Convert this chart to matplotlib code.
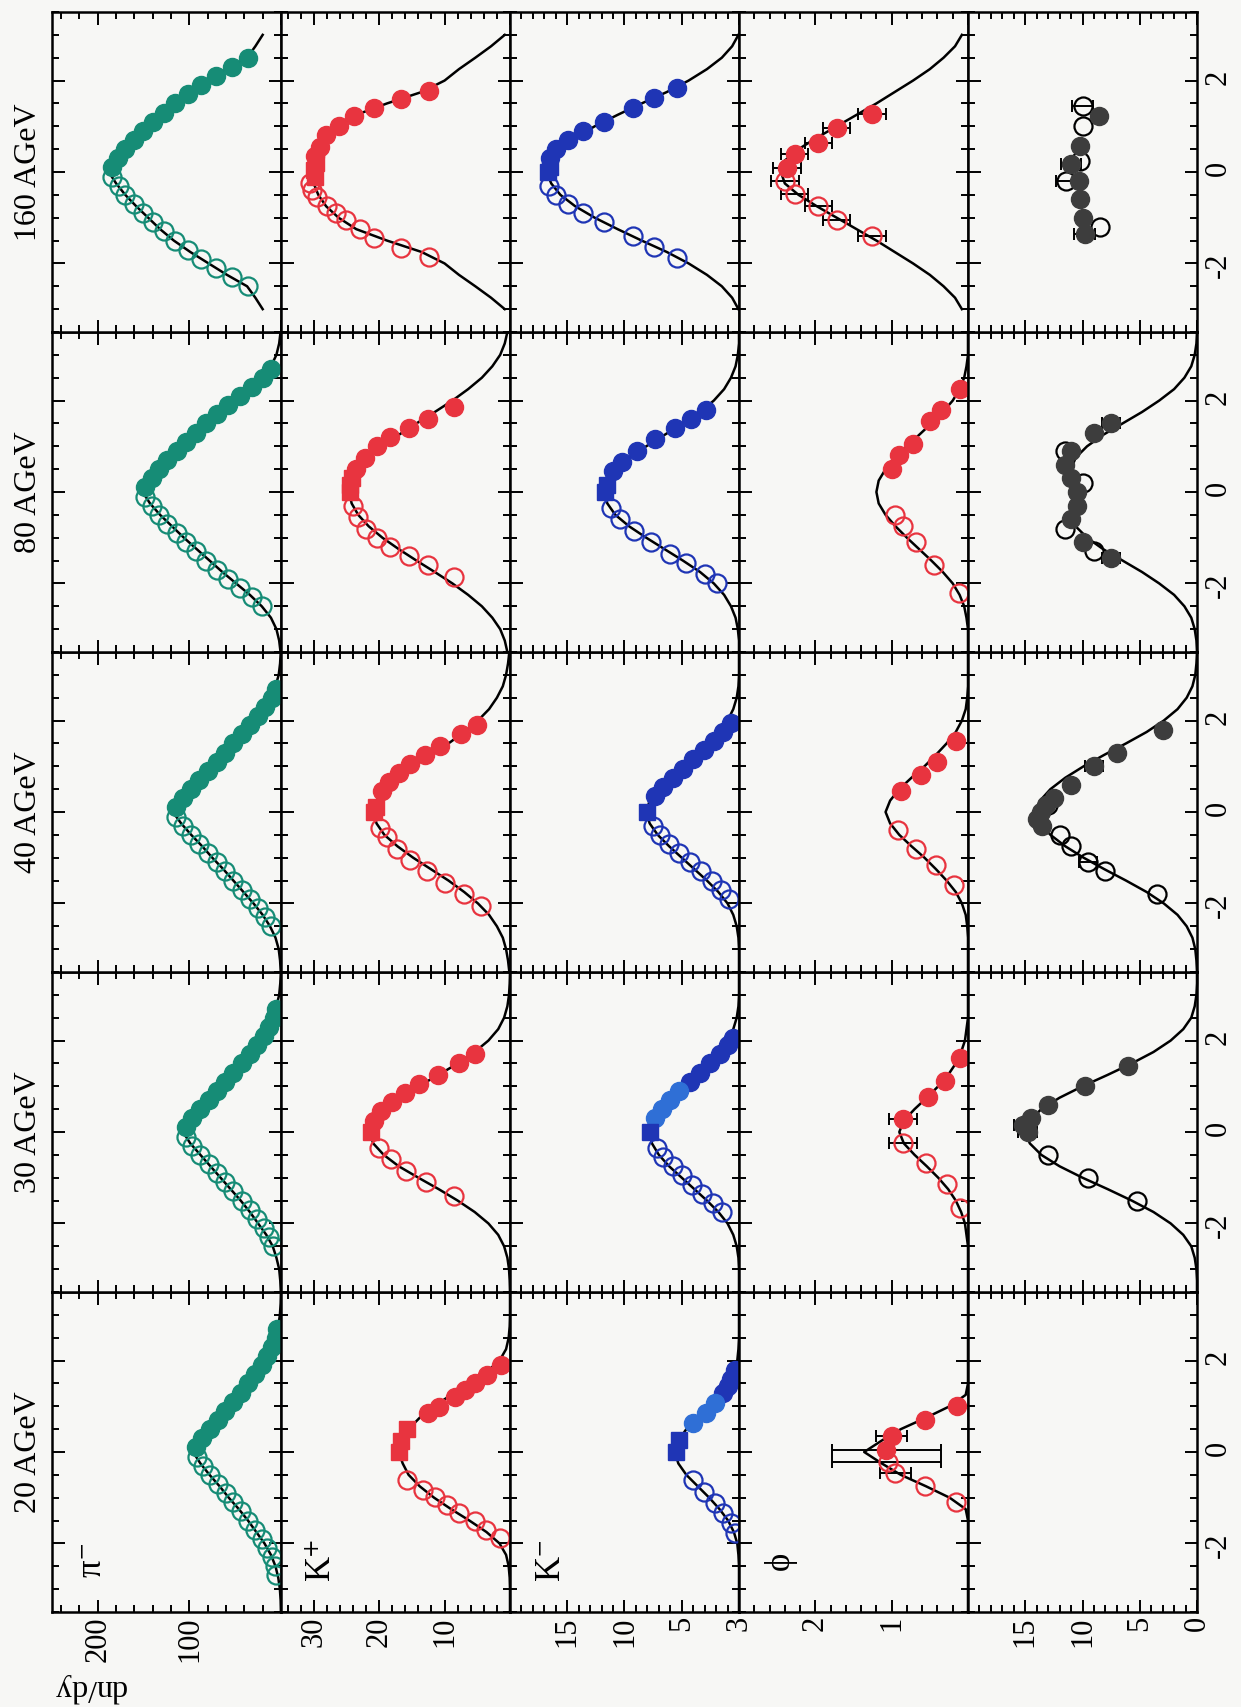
import matplotlib.pyplot as plt
from matplotlib.ticker import FixedLocator, FixedFormatter, MultipleLocator

plt.rcParams['font.family'] = ['Liberation Serif', 'DejaVu Serif']
plt.rcParams['mathtext.fontset'] = 'stix'
plt.rcParams['axes.unicode_minus'] = False

# ---------------- data (rapidity y, dn/dy) ----------------
energies = ['20 AGeV', '30 AGeV', '40 AGeV', '80 AGeV', '160 AGeV']
particles = ['pim', 'kp', 'km', 'phi', 'lam']
plabels = [r'π$^{-}$', r'K$^{+}$', r'K$^{-}$', 'ϕ', 'Λ']
dndy_max = [250, 35, 20, 3, 20]
dndy_major = [[0, 100, 200], [0, 10, 20, 30], [0, 5, 10, 15, 20], [0, 1, 2, 3], [0, 5, 10, 15, 20]]
dndy_ticklab = [['', '100', '200'], ['', '10', '20', '30'], ['', '5', '10', '15', ''],
                ['', '1', '2', '3'], ['0', '5', '10', '15', '']]
dndy_minor = [20, 2, 1, 0.2, 1]
y_ticks = [-2, 0, 2]
# fit curves are symmetric in y; values listed for y >= 0 on this grid
curve_grid = [0.0, 0.25, 0.5, 0.75, 1.0, 1.25, 1.5, 1.75, 2.0, 2.25, 2.5, 2.75, 3.0, 3.25, 3.5]

# pi-
pim20_yf = [0.1, 0.3, 0.5, 0.7, 0.9, 1.1, 1.3, 1.5, 1.7, 1.9, 2.1, 2.3, 2.5, 2.7]
pim20_vf = [93, 86, 78, 69, 61, 52, 44, 36, 28, 21, 15, 10, 6, 4]
pim20_yo = [-0.1, -0.3, -0.5, -0.7, -0.9, -1.1, -1.3, -1.5, -1.7, -1.9, -2.1, -2.3, -2.5, -2.7]
pim20_vo = [92, 85, 77, 69, 60, 52, 44, 36, 28, 21, 15, 10, 7, 5]
pim20_c = [96, 88, 78, 67, 57, 46, 36, 27, 18, 11, 6, 3, 1.2, 0.4, 0.1]

pim30_yf = [0.1, 0.3, 0.5, 0.7, 0.9, 1.1, 1.3, 1.5, 1.7, 1.9, 2.1, 2.3, 2.5, 2.7]
pim30_vf = [104, 97, 88, 79, 70, 61, 52, 43, 34, 26, 19, 13, 8, 5]
pim30_yo = [-0.1, -0.3, -0.5, -0.7, -0.9, -1.1, -1.3, -1.5, -1.7, -1.9, -2.1, -2.3, -2.5]
pim30_vo = [104, 97, 88, 79, 70, 61, 52, 43, 34, 26, 19, 13, 9]
pim30_c = [107, 99, 88, 77, 66, 55, 44, 34, 25, 16, 9, 5, 2, 0.8, 0.2]

pim40_yf = [0.1, 0.3, 0.5, 0.7, 0.9, 1.1, 1.3, 1.5, 1.7, 1.9, 2.1, 2.3, 2.5, 2.7]
pim40_vf = [115, 107, 98, 89, 80, 70, 61, 52, 43, 34, 25, 17, 10, 6]
pim40_yo = [-0.1, -0.3, -0.5, -0.7, -0.9, -1.1, -1.3, -1.5, -1.7, -1.9, -2.1, -2.3, -2.5]
pim40_vo = [115, 107, 98, 89, 80, 70, 61, 52, 43, 34, 25, 17, 11]
pim40_c = [118, 109, 98, 86, 75, 63, 52, 41, 30, 20, 12, 6, 2.5, 1, 0.3]

pim80_yf = [0.1, 0.3, 0.5, 0.7, 0.9, 1.1, 1.3, 1.5, 1.7, 1.9, 2.1, 2.3, 2.5, 2.7]
pim80_vf = [148, 141, 133, 124, 114, 104, 93, 82, 70, 58, 45, 32, 20, 11]
pim80_yo = [-0.1, -0.3, -0.5, -0.7, -0.9, -1.1, -1.3, -1.5, -1.7, -1.9, -2.1, -2.3, -2.5]
pim80_vo = [148, 141, 133, 124, 114, 104, 93, 82, 70, 58, 45, 32, 21]
pim80_c = [151, 143, 132, 119, 106, 92, 78, 64, 49, 34, 21, 11, 5, 2, 0.5]

pim160_yf = [0.1, 0.3, 0.5, 0.7, 0.9, 1.1, 1.3, 1.5, 1.7, 1.9, 2.1, 2.3, 2.5]
pim160_vf = [185, 178, 170, 161, 151, 140, 128, 116, 102, 87, 71, 54, 36]
pim160_yo = [-0.1, -0.3, -0.5, -0.7, -0.9, -1.1, -1.3, -1.5, -1.7, -1.9, -2.1, -2.3, -2.5]
pim160_vo = [184, 177, 170, 161, 151, 140, 128, 116, 102, 87, 71, 54, 36]
pim160_c = [188, 180, 170, 158, 145, 132, 117, 99, 79, 59, 37, 28, 20]

# K+
kp20_ys = [0.0, 0.25, 0.5]
kp20_vs = [16.9, 16.6, 15.8]
kp20_yf = [0.85, 0.99, 1.21, 1.36, 1.5, 1.68, 1.9]
kp20_vf = [12.6, 10.8, 8.4, 6.9, 5.4, 3.5, 1.4]
kp20_yo = [-0.61, -0.83, -0.98, -1.16, -1.34, -1.52, -1.71, -1.89]
kp20_vo = [15.7, 13.3, 11.5, 9.7, 7.8, 5.4, 3.6, 1.5]
kp20_c = [17.0, 16.4, 15.5, 13.8, 11.6, 9.0, 6.2, 3.6, 1.6, 0.6, 0.2, 0.05, 0, 0, 0]

kp30_ys = [0.0]
kp30_vs = [21.3]
kp30_yf = [0.25, 0.45, 0.65, 0.85, 1.05, 1.25, 1.5, 1.7]
kp30_vf = [20.8, 19.7, 18.0, 16.0, 13.9, 11.0, 7.8, 5.3]
kp30_yo = [-0.35, -0.6, -0.85, -1.1, -1.4]
kp30_vo = [20.0, 18.2, 15.9, 12.8, 8.6]
kp30_c = [21.5, 20.9, 19.3, 17.0, 14.0, 10.9, 8.0, 5.4, 3.3, 1.8, 0.9, 0.4, 0.15, 0.05, 0]

kp40_ys = [0.0, 0.1]
kp40_vs = [20.8, 20.5]
kp40_yf = [0.45, 0.65, 0.85, 1.05, 1.25, 1.45, 1.7, 1.9]
kp40_vf = [19.5, 18.5, 17.0, 15.3, 13.0, 10.7, 7.5, 5.0]
kp40_yo = [-0.35, -0.55, -0.8, -1.05, -1.3, -1.55, -1.8, -2.05]
kp40_vo = [19.8, 18.8, 17.2, 15.3, 12.7, 10.0, 7.0, 4.5]
kp40_c = [20.9, 20.4, 19.2, 17.2, 14.8, 12.1, 9.4, 7.0, 4.9, 3.2, 2.0, 1.1, 0.6, 0.3, 0.1]

kp80_ys = [0.0, 0.15, 0.3]
kp80_vs = [24.5, 24.4, 24.2]
kp80_yf = [0.5, 0.75, 1.0, 1.2, 1.4, 1.6, 1.85]
kp80_vf = [23.5, 22.2, 20.3, 18.3, 15.5, 12.5, 8.5]
kp80_yo = [-0.3, -0.55, -0.8, -1.0, -1.2, -1.4, -1.6, -1.85]
kp80_vo = [24.0, 23.3, 22.0, 20.3, 18.3, 15.5, 12.5, 8.5]
kp80_c = [24.6, 24.2, 23.2, 21.6, 19.5, 17.0, 14.3, 11.5, 8.8, 6.4, 4.3, 2.7, 1.5, 0.8, 0.4]

kp160_ys = [-0.1, 0.05, 0.2]
kp160_vs = [29.8, 30.0, 29.6]
kp160_yf = [0.35, 0.55, 0.8, 1.0, 1.22, 1.41, 1.6, 1.78]
kp160_vf = [29.8, 29.0, 28.1, 26.2, 23.8, 20.8, 16.6, 12.4]
kp160_yo = [-0.25, -0.4, -0.55, -0.75, -0.9, -1.04, -1.25, -1.45, -1.66, -1.85]
kp160_vo = [30.5, 30.3, 29.5, 28.0, 26.6, 25.0, 23.0, 20.8, 16.6, 12.4]
kp160_c = [30.2, 30.0, 29.3, 28.1, 26.2, 23.5, 18.8, 13.5, 10.0, 7.8, 5.3, 2.9, 0.8]

# K-
km20_ys = [0.0, 0.26]
km20_vs = [5.5, 5.2]
km20_yl = [0.63, 0.85, 1.07]
km20_vl = [4.0, 2.9, 2.1]
km20_yf = [1.28, 1.45, 1.6, 1.79]
km20_vf = [1.4, 1.0, 0.7, 0.35]
km20_yo = [-0.61, -0.87, -1.12, -1.34, -1.56, -1.78]
km20_vo = [4.0, 3.1, 2.1, 1.4, 0.7, 0.35]
km20_c = [5.6, 5.3, 4.6, 3.6, 2.6, 1.7, 0.95, 0.45, 0.15, 0.05, 0, 0, 0, 0, 0]

km30_ys = [0.0]
km30_vs = [7.8]
km30_yl = [0.3, 0.5, 0.7, 0.9]
km30_vl = [7.3, 6.7, 6.0, 5.2]
km30_yf = [1.1, 1.3, 1.5, 1.7, 1.9, 2.05]
km30_vf = [4.3, 3.4, 2.5, 1.7, 1.0, 0.5]
km30_yo = [-0.35, -0.55, -0.75, -0.95, -1.15, -1.35, -1.55, -1.75]
km30_vo = [7.2, 6.6, 5.8, 5.0, 4.1, 3.2, 2.3, 1.5]
km30_c = [7.8, 7.6, 7.0, 6.1, 5.0, 3.9, 2.8, 1.8, 1.0, 0.5, 0.2, 0.05, 0, 0, 0]

km40_ys = [0.0]
km40_vs = [8.0]
km40_yl = []
km40_vl = []
km40_yf = [0.35, 0.55, 0.75, 0.95, 1.15, 1.35, 1.55, 1.75, 1.95]
km40_vf = [7.3, 6.6, 5.8, 4.9, 4.0, 3.1, 2.2, 1.4, 0.7]
km40_yo = [-0.3, -0.5, -0.7, -0.9, -1.1, -1.3, -1.5, -1.7, -1.9]
km40_vo = [7.5, 6.9, 6.1, 5.2, 4.3, 3.3, 2.4, 1.6, 0.9]
km40_c = [8.1, 7.8, 7.1, 6.1, 5.0, 3.9, 2.8, 1.8, 1.0, 0.5, 0.2, 0.05, 0, 0, 0]

km80_ys = [0.0, 0.15]
km80_vs = [11.7, 11.5]
km80_yl = []
km80_vl = []
km80_yf = [0.45, 0.65, 0.9, 1.15, 1.4, 1.6, 1.8]
km80_vf = [11.0, 10.2, 8.9, 7.3, 5.6, 4.2, 2.9]
km80_yo = [-0.35, -0.6, -0.85, -1.1, -1.35, -1.55, -1.8, -2.0]
km80_vo = [11.2, 10.4, 9.2, 7.7, 6.0, 4.6, 3.0, 1.9]
km80_c = [11.8, 11.5, 10.8, 9.6, 8.1, 6.5, 4.9, 3.4, 2.2, 1.3, 0.7, 0.3, 0.1, 0, 0]

km160_ys = [0.0, 0.1]
km160_vs = [16.7, 16.5]
km160_yl = []
km160_vl = []
km160_yf = [0.3, 0.5, 0.7, 0.9, 1.1, 1.4, 1.62, 1.84]
km160_vf = [16.5, 16.0, 14.9, 13.6, 11.8, 9.3, 7.4, 5.4]
km160_yo = [-0.3, -0.5, -0.7, -0.9, -1.1, -1.41, -1.63, -1.88]
km160_vo = [16.6, 16.0, 14.9, 13.6, 11.8, 9.3, 7.4, 5.4]
km160_c = [16.8, 16.4, 15.6, 14.3, 12.6, 10.6, 8.5, 6.3, 4.4, 2.8, 1.5, 0.6, 0.05]

# phi
phi20_yf = [0.04, 0.35, 0.7, 1.0]
phi20_vf = [1.08, 1.0, 0.56, 0.15]
phi20_yo = [-0.21, -0.45, -0.75, -1.1]
phi20_vo = [1.05, 0.95, 0.56, 0.16]
phi20_ey = [0.04, -0.21, 0.35, -0.45]
phi20_ev = [1.07, 1.07, 1.0, 0.95]
phi20_ee = [0.71, 0.71, 0.2, 0.2]
phi20_c = [1.36, 1.13, 0.88, 0.55, 0.24, 0.03, 0, 0, 0, 0, 0, 0, 0, 0, 0]

phi30_yf = [0.29, 0.76, 1.12, 1.62]
phi30_vf = [0.85, 0.52, 0.3, 0.1]
phi30_yo = [-0.24, -0.67, -1.14, -1.67]
phi30_vo = [0.85, 0.55, 0.27, 0.1]
phi30_ey = [0.29, -0.24]
phi30_ev = [0.85, 0.85]
phi30_ee = [0.18, 0.18]
phi30_c = [0.9, 0.84, 0.7, 0.54, 0.39, 0.26, 0.16, 0.09, 0.04, 0.02, 0, 0, 0, 0, 0]

phi40_yf = [0.45, 0.8, 1.1, 1.55]
phi40_vf = [0.88, 0.62, 0.4, 0.16]
phi40_yo = [-0.4, -0.8, -1.15, -1.6]
phi40_vo = [0.92, 0.68, 0.42, 0.18]
phi40_ey = []
phi40_ev = []
phi40_ee = []
phi40_c = [1.08, 1.02, 0.9, 0.74, 0.57, 0.42, 0.28, 0.16, 0.08, 0.03, 0.01, 0, 0, 0, 0]

phi80_yf = [0.5, 0.8, 1.05, 1.55, 1.8, 2.25]
phi80_vf = [1.0, 0.9, 0.72, 0.5, 0.35, 0.1]
phi80_yo = [-0.5, -0.75, -1.1, -1.6, -2.2]
phi80_vo = [0.95, 0.85, 0.68, 0.45, 0.12]
phi80_ey = []
phi80_ev = []
phi80_ee = []
phi80_c = [1.2, 1.17, 1.08, 0.95, 0.8, 0.64, 0.48, 0.33, 0.2, 0.11, 0.05, 0.02, 0, 0, 0]

phi160_yf = [0.09, 0.39, 0.64, 0.97, 1.27]
phi160_vf = [2.37, 2.27, 1.96, 1.72, 1.26]
phi160_yo = [-0.2, -0.49, -0.74, -1.04, -1.41]
phi160_vo = [2.4, 2.27, 1.96, 1.72, 1.26]
phi160_ey = [0.09, 0.39, 0.64, 0.97, 1.27, -0.2, -0.49, -0.74, -1.04, -1.41]
phi160_ev = [2.37, 2.27, 1.96, 1.72, 1.26, 2.4, 2.27, 1.96, 1.72, 1.26]
phi160_ee = [0.18, 0.18, 0.18, 0.18, 0.18, 0.18, 0.18, 0.18, 0.18, 0.18]
phi160_c = [2.45, 2.4, 2.22, 1.98, 1.72, 1.46, 1.2, 0.96, 0.72, 0.5, 0.32, 0.17, 0.08]

# Lambda (no 20 AGeV data)
lam30_yf = [0.0, 0.15, 0.3, 0.6, 1.0, 1.45]
lam30_vf = [14.8, 15.2, 14.5, 13.0, 9.8, 6.0]
lam30_yo = [-0.5, -1.0, -1.5]
lam30_vo = [13.0, 9.5, 5.2]
lam30_ey = [0.0, 0.15]
lam30_ev = [14.8, 15.2]
lam30_ee = [0.8, 0.8]
lam30_c = [15.0, 14.6, 13.6, 12.0, 10.0, 7.8, 5.7, 3.8, 2.3, 1.2, 0.5, 0.2, 0.05, 0, 0]

lam40_yf = [-0.3, -0.15, 0.0, 0.15, 0.3, 0.6, 1.0, 1.3, 1.8]
lam40_vf = [13.5, 14.0, 13.6, 13.2, 12.5, 11.0, 9.0, 7.0, 3.0]
lam40_yo = [0.15, -0.5, -0.75, -1.1, -1.3, -1.8]
lam40_vo = [13.0, 12.0, 11.0, 9.5, 8.0, 3.5]
lam40_ey = [1.0, -1.1]
lam40_ev = [9.0, 9.5]
lam40_ee = [0.8, 0.8]
lam40_c = [14.0, 13.7, 12.8, 11.5, 9.9, 8.1, 6.2, 4.4, 2.9, 1.7, 0.9, 0.4, 0.15, 0.05, 0]

lam80_yf = [-1.45, -1.1, -0.6, -0.3, 0.0, 0.3, 0.6, 0.9, 1.3, 1.5]
lam80_vf = [7.5, 10.0, 11.0, 10.5, 10.5, 11.0, 11.5, 11.0, 9.0, 7.5]
lam80_yo = [-1.3, -0.8, 0.2, 0.9]
lam80_vo = [9.0, 11.5, 10.0, 11.5]
lam80_ey = [-1.45, 1.5]
lam80_ev = [7.5, 7.5]
lam80_ee = [0.8, 0.8]
lam80_c = [10.8, 10.9, 11.0, 10.6, 9.6, 8.2, 6.5, 4.8, 3.3, 2.0, 1.1, 0.5, 0.2, 0.05, 0]

lam160_yf = [1.22, 0.56, 0.17, -0.2, -0.59, -1.0, -1.36]
lam160_vf = [8.6, 10.2, 11.0, 10.3, 10.2, 10.0, 9.8]
lam160_yo = [1.44, 1.0, 0.25, -0.2, -1.21]
lam160_vo = [10.0, 10.0, 10.2, 11.4, 8.5]
lam160_ey = [1.44, 0.17, -0.2, -1.36]
lam160_ev = [10.0, 11.0, 11.4, 9.8]
lam160_ee = [0.9, 0.9, 0.9, 0.9]

# ---------------- style ----------------
bg = '#f7f7f5'
c_pi = '#168c76'
c_red = '#e8343f'
c_blue = '#1f35b5'
c_lblue = '#2f6fd6'
c_lam = '#3d3d3d'
ms = 13

W, H = 1241, 1707
x0, y0, pw, ph = 52, 12, 229, 320

panels = {}
for e, tag in enumerate(['20', '30', '40', '80', '160']):
    g = globals()
    panels[('pim', e)] = dict(yf=g['pim%s_yf' % tag], vf=g['pim%s_vf' % tag],
                              yo=g['pim%s_yo' % tag], vo=g['pim%s_vo' % tag],
                              c=g['pim%s_c' % tag], col=c_pi)
    panels[('kp', e)] = dict(ys=g['kp%s_ys' % tag], vs=g['kp%s_vs' % tag],
                             yf=g['kp%s_yf' % tag], vf=g['kp%s_vf' % tag],
                             yo=g['kp%s_yo' % tag], vo=g['kp%s_vo' % tag],
                             c=g['kp%s_c' % tag], col=c_red)
    panels[('km', e)] = dict(ys=g['km%s_ys' % tag], vs=g['km%s_vs' % tag],
                             yl=g['km%s_yl' % tag], vl=g['km%s_vl' % tag],
                             yf=g['km%s_yf' % tag], vf=g['km%s_vf' % tag],
                             yo=g['km%s_yo' % tag], vo=g['km%s_vo' % tag],
                             c=g['km%s_c' % tag], col=c_blue)
    panels[('phi', e)] = dict(yf=g['phi%s_yf' % tag], vf=g['phi%s_vf' % tag],
                              yo=g['phi%s_yo' % tag], vo=g['phi%s_vo' % tag],
                              ey=g['phi%s_ey' % tag], ev=g['phi%s_ev' % tag],
                              ee=g['phi%s_ee' % tag], c=g['phi%s_c' % tag], col=c_red)
    if tag != '20':
        panels[('lam', e)] = dict(yf=g['lam%s_yf' % tag], vf=g['lam%s_vf' % tag],
                                  yo=g['lam%s_yo' % tag], vo=g['lam%s_vo' % tag],
                                  ey=g['lam%s_ey' % tag], ev=g['lam%s_ev' % tag],
                                  ee=g['lam%s_ee' % tag], c=g.get('lam%s_c' % tag),
                                  col=c_lam, ocol='k')

fig = plt.figure(figsize=(W / 100, H / 100), dpi=100, facecolor=bg)

for i, p in enumerate(particles):
    for e in range(5):
        k = 4 - e  # row from top
        ax = fig.add_axes([(x0 + pw * i) / W, 1 - (y0 + ph * (k + 1)) / H, pw / W, ph / H])
        ax.set_facecolor(bg)
        ax.set_xlim(dndy_max[i], 0)
        ax.set_ylim(-3.5, 3.5)
        ax.xaxis.set_major_locator(FixedLocator(dndy_major[i]))
        ax.xaxis.set_major_formatter(FixedFormatter(dndy_ticklab[i]))
        ax.xaxis.set_minor_locator(MultipleLocator(dndy_minor[i]))
        ax.yaxis.set_major_locator(FixedLocator(y_ticks))
        ax.yaxis.set_minor_locator(MultipleLocator(0.5))
        ax.tick_params(which='both', direction='in', top=True, bottom=True, left=True,
                       right=True, width=1.4, labelsize=22, labelleft=False,
                       labeltop=False, labelbottom=(e == 0), labelright=(i == 4))
        ax.tick_params(which='major', length=9)
        ax.tick_params(which='minor', length=5)
        ax.tick_params(axis='x', labelrotation=90, pad=3)
        ax.tick_params(axis='y', labelrotation=90, pad=5)
        for s in ax.spines.values():
            s.set_linewidth(1.8)

        d = panels.get((p, e))
        if d is None:
            continue
        col = d['col']
        if d.get('c') is not None:
            cv = d['c']
            gy = curve_grid[:len(cv)]
            yy = [-v for v in gy[::-1]] + gy[1:]
            vv = cv[::-1] + cv[1:]
            ax.plot(vv, yy, color='k', lw=1.8, zorder=2, clip_on=False)
        if d.get('ey'):
            ax.errorbar(d['ev'], d['ey'], xerr=d['ee'], fmt='none', ecolor='k',
                        elinewidth=1.4, capsize=4, capthick=1.4, zorder=3)
        ax.plot(d['vo'], d['yo'], 'o', ms=ms, mfc='none', mec=d.get('ocol', col),
                mew=1.6, zorder=4)
        ax.plot(d['vf'], d['yf'], 'o', ms=ms, mfc=col, mec=col, mew=1.0, zorder=5)
        if d.get('yl'):
            ax.plot(d['vl'], d['yl'], 'o', ms=ms, mfc=c_lblue, mec=c_lblue, zorder=5)
        if d.get('ys'):
            ax.plot(d['vs'], d['ys'], 's', ms=ms - 1, mfc=col, mec=col, zorder=6)

        if e == 0:
            ax.text(0.18, 0.16, plabels[i], transform=ax.transAxes, rotation=90,
                    ha='center', va='center', fontsize=25)

for e, lab in enumerate(energies):
    k = 4 - e
    fig.text(28 / W, 1 - (y0 + ph * k + ph / 2) / H, lab, rotation=90,
             ha='center', va='center', fontsize=23)

fig.text(89 / W, 1 - 1688 / H, 'dn/dy', rotation=180, ha='center', va='center',
         fontsize=23)

fig.savefig('out.png', dpi=100, facecolor=bg)
